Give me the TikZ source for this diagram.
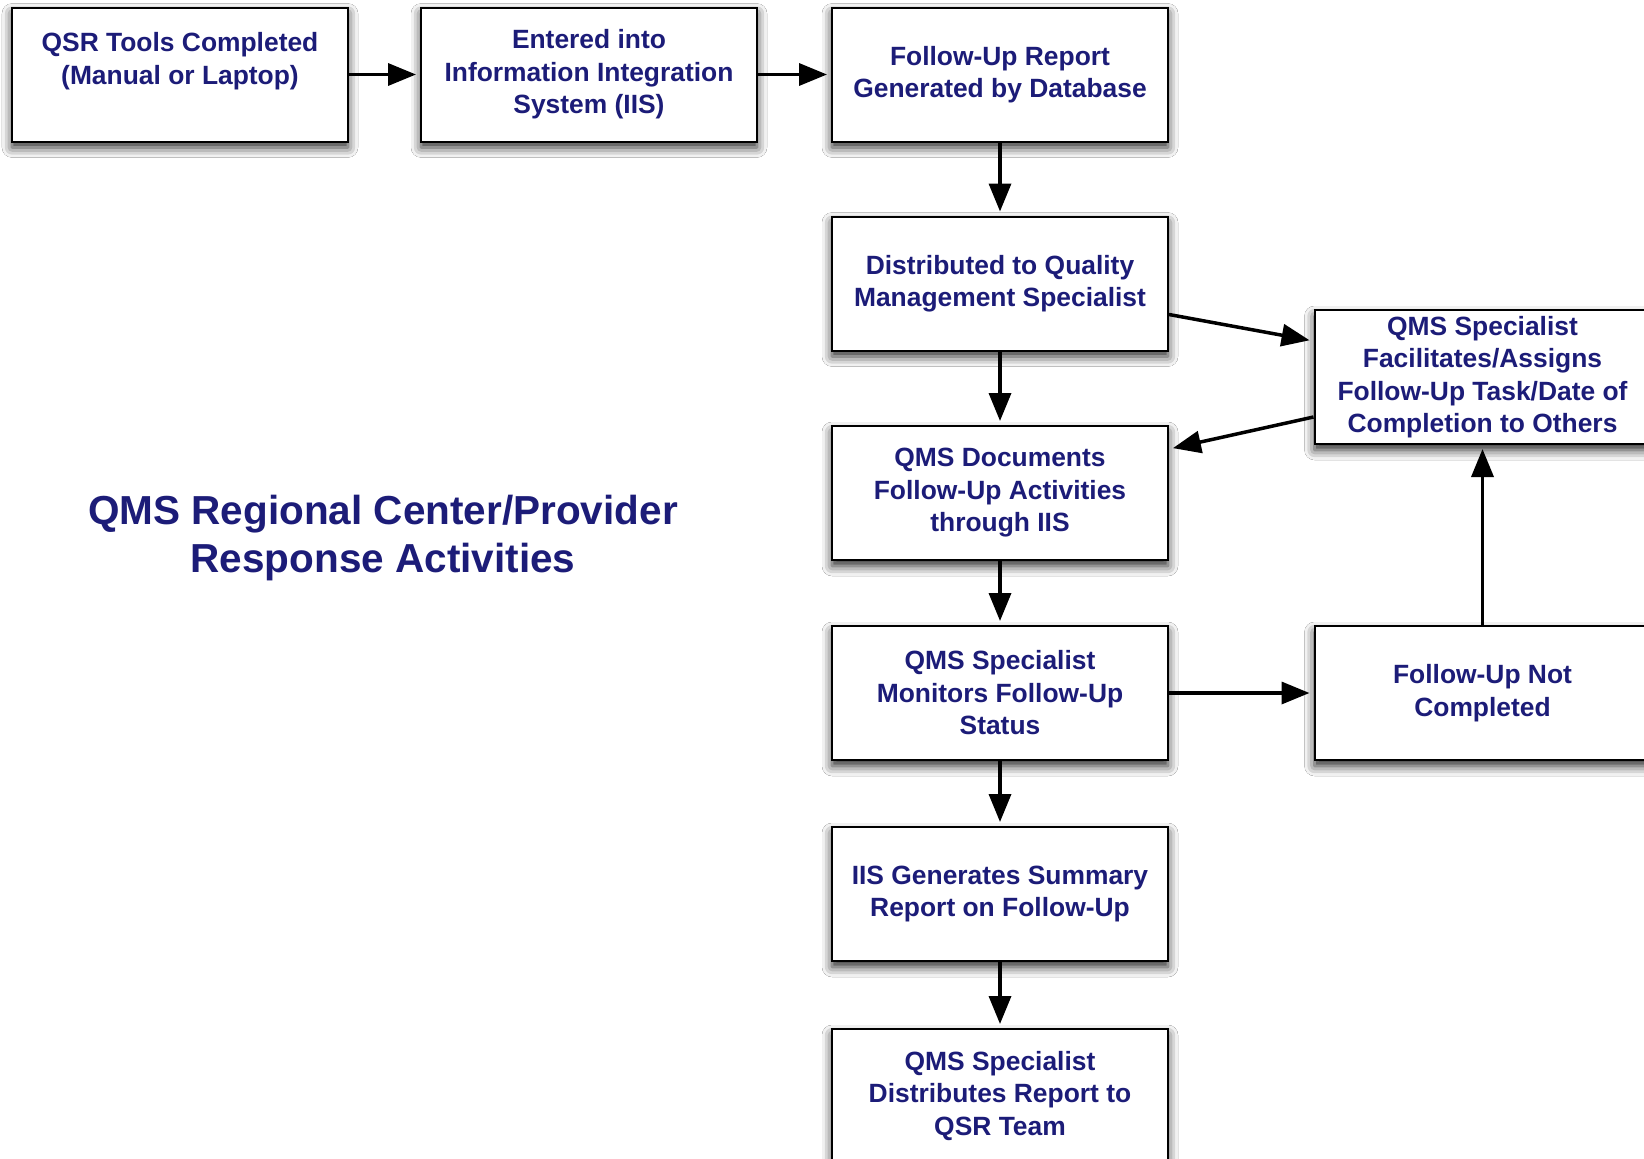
\documentclass[tikz,border=0pt]{standalone}
\usepackage{fontspec}
\setmainfont{Liberation Sans}
\usetikzlibrary{arrows.meta,shadows.blur}
\definecolor{navy}{RGB}{28,28,120}
\begin{document}
\begin{tikzpicture}[x=1pt,y=-1pt,
  box/.style={draw=black, line width=2pt, fill=white, minimum width=336pt, minimum height=134pt,
    inner sep=0pt, align=center, text=navy, font=\fontsize{26.4}{32.5}\selectfont\bfseries,
    blur shadow={shadow xshift=0pt, shadow yshift=-6pt, shadow blur radius=10pt, shadow opacity=85}},
  arr/.style={line width=3.5pt, -{Triangle[length=28pt,width=22pt]}, shorten >=4pt}]
\useasboundingbox (0,0) rectangle (1644,1159);
\fill[white] (0,0) rectangle (1644,1159);
\node[box] (qsr) at (180,74.5) {QSR Tools Completed\\(Manual or Laptop)\\\mbox{}};
\node[box] (iis) at (589,74.5) {Entered into\\Information Integration\\System (IIS)};
\node[box] (rep) at (1000,74.5) {Follow-Up Report\\Generated by Database};
\node[box] (dist) at (1000,283.5) {Distributed to Quality\\Management Specialist};
\node[box] (doc) at (1000,493) {QMS Documents\\Follow-Up Activities\\through IIS};
\node[box] (mon) at (1000,693) {QMS Specialist\\Monitors Follow-Up\\Status};
\node[box] (sum) at (1000,894) {IIS Generates Summary\\Report on Follow-Up};
\node[box] (team) at (1000,1096) {QMS Specialist\\Distributes Report to\\QSR Team};
\node[box] (fac) at (1482.5,377) {QMS Specialist\\Facilitates/Assigns\\Follow-Up Task/Date of\\Completion to Others};
\node[box] (not) at (1482.5,693) {Follow-Up Not\\Completed};
\node[text=navy, font=\fontsize{40.5}{48}\selectfont\bfseries, align=center] (title) at (383,538)
  {QMS Regional Center/Provider\\Response Activities};
\draw[arr] (qsr) -- (iis);
\draw[arr] (iis) -- (rep);
\draw[arr] (rep) -- (dist);
\draw[arr] (dist) -- (doc);
\draw[arr] (doc) -- (mon);
\draw[arr] (mon) -- (sum);
\draw[arr] (sum) -- (team);
\draw[arr] ([yshift=-31pt]dist.east) -- ([yshift=36pt]fac.west);
\draw[arr] ([yshift=-40pt]fac.west) -- ([yshift=44pt]doc.east);
\draw[arr] (not) -- (fac);
\draw[arr] (mon) -- (not);
\end{tikzpicture}
\end{document}
